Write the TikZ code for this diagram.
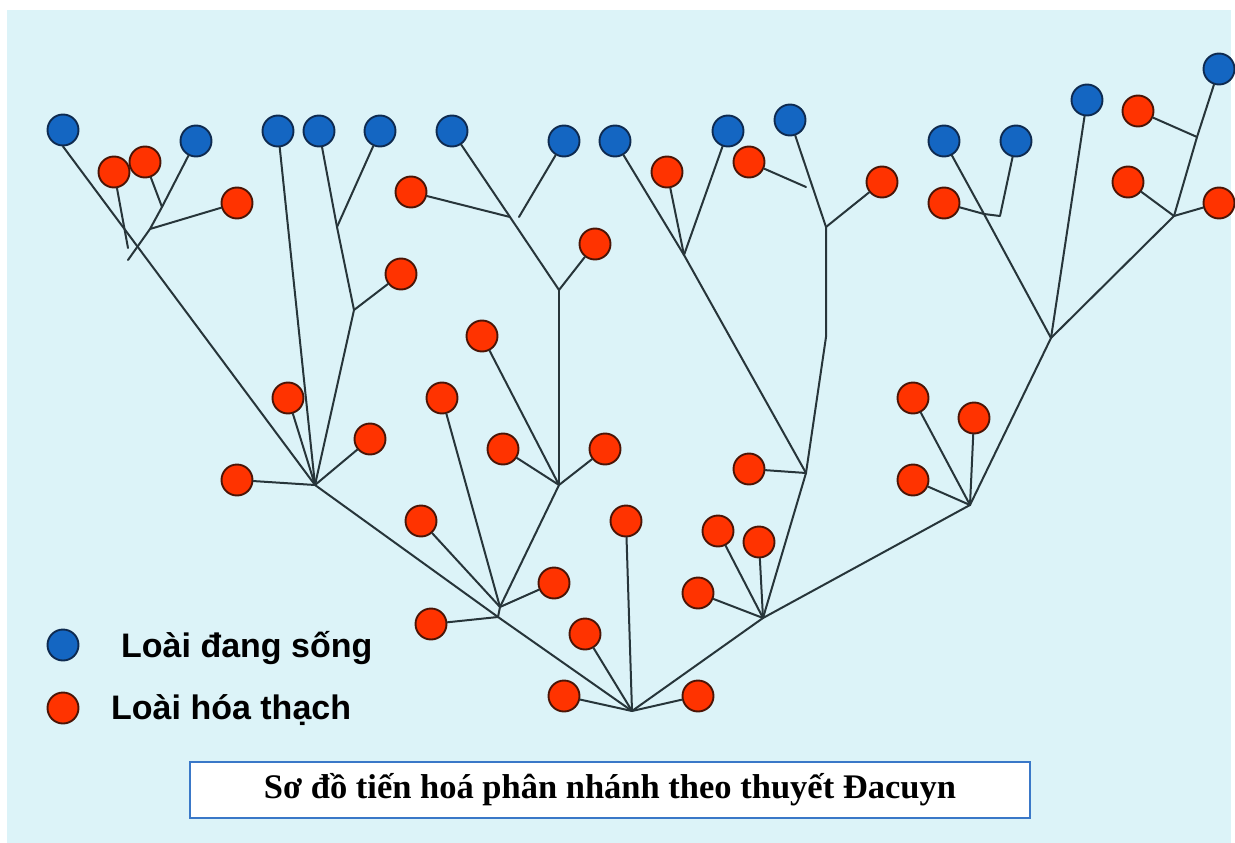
\documentclass[tikz,border=0pt]{standalone}
\usepackage{fontspec}
\setmainfont{Liberation Serif}
\newfontfamily\legfont{Liberation Sans}
\definecolor{bgblue}{HTML}{DCF3F8}
\definecolor{livefill}{HTML}{1466C2}
\definecolor{liveedge}{HTML}{0E2A50}
\definecolor{fosfill}{HTML}{FF3300}
\definecolor{fosedge}{HTML}{4A1406}
\definecolor{linkcol}{HTML}{27353A}
\definecolor{boxedge}{HTML}{3A78C8}
\tikzset{
  liv/.style={circle, minimum size=31pt, inner sep=0pt, fill=livefill, draw=liveedge, line width=1.9pt},
  fos/.style={circle, minimum size=31pt, inner sep=0pt, fill=fosfill, draw=fosedge, line width=1.9pt},
  link/.style={draw=linkcol, line width=2pt, line cap=round, line join=round},
  legtext/.style={font=\legfont\bfseries\fontsize{34}{38}\selectfont, anchor=west, inner sep=0pt, text=black},
  titlebox/.style={draw=boxedge, line width=2.5pt, fill=white, minimum width=840pt, minimum height=56pt, inner sep=0pt,
    font=\bfseries\fontsize{34.5}{38}\selectfont}
}
\begin{document}
\begin{tikzpicture}[x=1pt,y=-1pt]
\useasboundingbox (0,0) rectangle (1235,843);
\fill[white] (0,0) rectangle (1235,843);
\fill[bgblue] (7,10) rectangle (1231,843);

% living species (blue)
\node[liv] (b1) at (63,130) {};
\node[liv] (b2) at (196,141) {};
\node[liv] (b3) at (278,131) {};
\node[liv] (b4) at (319,131) {};
\node[liv] (b5) at (380,131) {};
\node[liv] (b6) at (452,131) {};
\node[liv] (b7) at (564,141) {};
\node[liv] (b8) at (615,141) {};
\node[liv] (b9) at (728,131) {};
\node[liv] (b10) at (790,120) {};
\node[liv] (b11) at (944,141) {};
\node[liv] (b12) at (1016,141) {};
\node[liv] (b13) at (1087,100) {};
\node[liv] (b14) at (1219,69) {};

% fossil species (red)
\node[fos] (r1) at (114,172) {};
\node[fos] (r2) at (145,162) {};
\node[fos] (r3) at (237,203) {};
\node[fos] (r4) at (401,274) {};
\node[fos] (r5) at (288,398) {};
\node[fos] (r6) at (370,439) {};
\node[fos] (r7) at (237,480) {};
\node[fos] (r8) at (421,521) {};
\node[fos] (r9) at (442,398) {};
\node[fos] (r10) at (554,583) {};
\node[fos] (r11) at (431,624) {};
\node[fos] (r12) at (482,336) {};
\node[fos] (r13) at (503,449) {};
\node[fos] (r14) at (605,449) {};
\node[fos] (r15) at (595,244) {};
\node[fos] (r16) at (411,192) {};
\node[fos] (r17) at (667,172) {};
\node[fos] (r18) at (749,162) {};
\node[fos] (r19) at (882,182) {};
\node[fos] (r20) at (749,469) {};
\node[fos] (r21) at (718,531) {};
\node[fos] (r22) at (759,542) {};
\node[fos] (r23) at (698,593) {};
\node[fos] (r24) at (913,398) {};
\node[fos] (r25) at (974,418) {};
\node[fos] (r26) at (913,480) {};
\node[fos] (r27) at (944,203) {};
\node[fos] (r28) at (1138,111) {};
\node[fos] (r29) at (1128,182) {};
\node[fos] (r30) at (1219,203) {};
\node[fos] (r31) at (626,521) {};
\node[fos] (r32) at (585,634) {};
\node[fos] (r33) at (564,696) {};
\node[fos] (r34) at (698,696) {};

% branch points and free ends
\coordinate (e1) at (128,248);
\coordinate (j2a) at (162,207);
\coordinate (j2b) at (150,229);
\coordinate (e2) at (128,260);
\coordinate (jA) at (315,485);
\coordinate (j4) at (337,227);
\coordinate (jB) at (354,310);
\coordinate (jC) at (500,607);
\coordinate (jC2) at (498,617);
\coordinate (root) at (632,711);
\coordinate (jD) at (559,485);
\coordinate (jE) at (559,290);
\coordinate (jF) at (510,217);
\coordinate (e3) at (519,217);
\coordinate (jG) at (684,255);
\coordinate (jH) at (806,473);
\coordinate (e4) at (806,187);
\coordinate (jI) at (826,227);
\coordinate (jI2) at (826,337);
\coordinate (jK) at (763,618);
\coordinate (jL) at (970,505);
\coordinate (jM) at (1051,338);
\coordinate (jN1) at (984,214);
\coordinate (jN2) at (1000,216);
\coordinate (jP) at (1197,137);
\coordinate (jO) at (1174,216);

% connectors
\begin{scope}[link]
\draw (r1) -- (e1);
\draw (b2) -- (j2a) -- (j2b) -- (e2);
\draw (r2) -- (j2a);
\draw (r3) -- (j2b);
\draw (b1.south) -- (jA);
\draw (b3) -- (jA);
\draw (b4) -- (j4) -- (jB);
\draw (b5) -- (j4);
\draw (r4) -- (jB);
\draw (jB) -- (jA);
\draw (r5) -- (jA);
\draw (r6) -- (jA);
\draw (r7) -- (jA);
\draw (jA) -- (jC2) -- (root);
\draw (jC) -- (jC2);
\draw (r8) -- (jC);
\draw (r9) -- (jC);
\draw (jD) -- (jC);
\draw (r10) -- (jC);
\draw (r11) -- (jC2);
\draw (r12) -- (jD);
\draw (r13) -- (jD);
\draw (r14) -- (jD);
\draw (jE) -- (jD);
\draw (r15) -- (jE);
\draw (b6) -- (jF) -- (jE);
\draw (r16) -- (jF);
\draw (b7) -- (e3);
\draw (b8) -- (jG) -- (jH);
\draw (r17) -- (jG);
\draw (b9) -- (jG);
\draw (r18) -- (e4);
\draw (b10) -- (jI);
\draw (r19) -- (jI);
\draw (jI) -- (jI2) -- (jH);
\draw (r20) -- (jH);
\draw (jH) -- (jK);
\draw (r21) -- (jK);
\draw (r22) -- (jK);
\draw (r23) -- (jK);
\draw (jK) -- (root);
\draw (jK) -- (jL);
\draw (r24) -- (jL);
\draw (r25) -- (jL);
\draw (r26) -- (jL);
\draw (jL) -- (jM);
\draw (b11) -- (jN1) -- (jM);
\draw (r27) -- (jN1);
\draw (b12) -- (jN2) -- (jN1);
\draw (b13) -- (jM);
\draw (b14) -- (jP) -- (jO);
\draw (r28) -- (jP);
\draw (r29) -- (jO);
\draw (r30) -- (jO);
\draw (jO) -- (jM);
\draw (r31) -- (root);
\draw (r32) -- (root);
\draw (r33) -- (root);
\draw (r34) -- (root);
\end{scope}

% legend
\node[liv] (legb) at (63,645) {};
\node[fos] (legr) at (63,708) {};
\node[legtext] (legbt) at (121,648) {Loài đang sống};
\node[legtext] (legrt) at (111,710) {Loài hóa thạch};

% title
\node[titlebox] (title) at (610,790) {Sơ đồ tiến hoá phân nhánh theo thuyết Đacuyn};
\end{tikzpicture}
\end{document}
